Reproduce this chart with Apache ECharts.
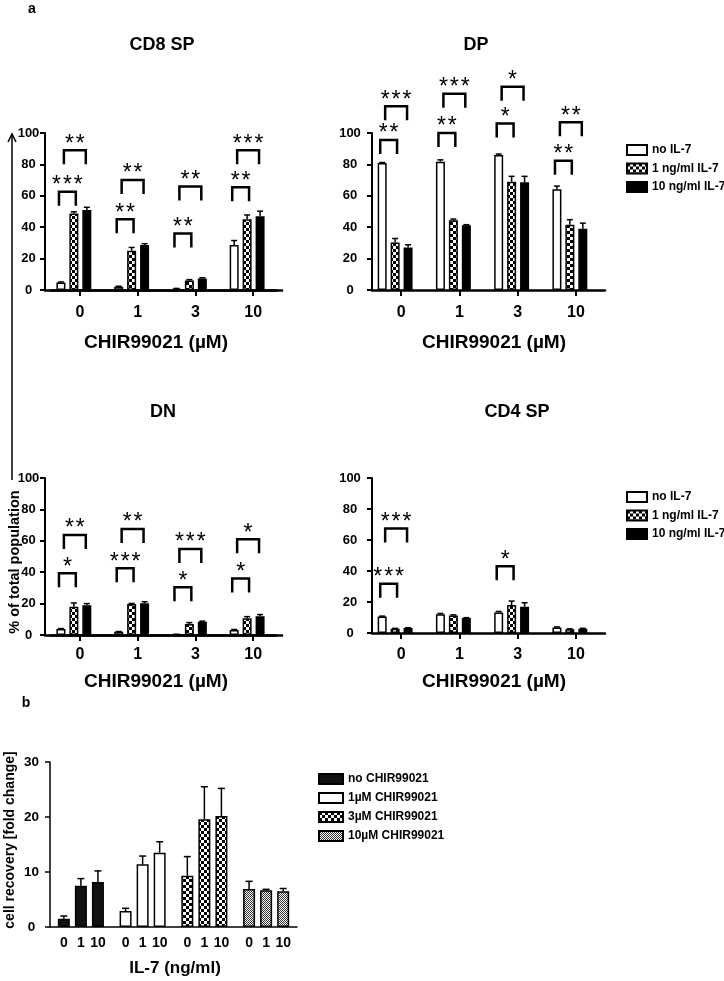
<!DOCTYPE html>
<html><head><meta charset="utf-8">
<script src="https://cdn.jsdelivr.net/npm/echarts@6/dist/echarts.min.js"></script>
<style>html,body{margin:0;padding:0;background:#fff}#c{width:724px;height:981px}</style>
</head><body><div id="c"></div>
<script>
const FONT = '"Liberation Sans", Arial, sans-serif';

// ---------------- Panel a data ----------------
const chirCategories = ['0', '1', '3', '10'];
const il7Names = ['no IL-7', '1 ng/ml IL-7', '10 ng/ml IL-7'];

// CD8 SP
const cd8NoIL7 = [4.7, 2.1, 0.8, 28.7];
const cd8IL7_1 = [48.8, 25.0, 6.0, 45.0];
const cd8IL7_10 = [51.0, 28.7, 7.4, 47.0];
const cd8ErrNo = [0.4, 0.3, 0.2, 2.8];
const cd8Err1 = [1.0, 2.1, 0.6, 2.8];
const cd8Err10 = [1.7, 0.8, 0.4, 3.2];
// [category index, 0 = no vs 1 ng / 1 = no vs 10 ng, bracket height, stars]
const cd8Brackets = [[0, 0, 62.6, '***'], [0, 1, 89, '**'], [1, 0, 45, '**'], [1, 1, 70, '**'],
                     [2, 0, 36, '**'], [2, 1, 66, '**'], [3, 0, 65.4, '**'], [3, 1, 89, '***']];

// DP
const dpNoIL7 = [80.9, 81.7, 86.0, 64.2];
const dpIL7_1 = [30.2, 44.5, 69.0, 41.6];
const dpIL7_10 = [27.0, 41.3, 68.6, 39.0];
const dpErrNo = [0.3, 1.2, 0.6, 2.0];
const dpErr1 = [2.6, 0.7, 3.4, 3.2];
const dpErr10 = [1.8, 0.3, 3.8, 3.6];
const dpBrackets = [[0, 0, 95.5, '**'], [0, 1, 117, '***'], [1, 0, 100, '**'], [1, 1, 125, '***'],
                    [2, 0, 106, '*'], [2, 1, 129.5, '*'], [3, 0, 82.4, '**'], [3, 1, 106.8, '**']];

// DN
const dnNoIL7 = [3.8, 2.0, 0.4, 3.2];
const dnIL7_1 = [18.0, 19.7, 7.0, 10.6];
const dnIL7_10 = [19.0, 20.2, 8.5, 12.0];
const dnErrNo = [0.3, 0.2, 0.1, 0.3];
const dnErr1 = [2.4, 0.4, 0.9, 1.1];
const dnErr10 = [1.0, 1.0, 0.3, 1.0];
const dnBrackets = [[0, 0, 39.3, '*'], [0, 1, 63.7, '**'], [1, 0, 42.5, '***'], [1, 1, 67.5, '**'],
                    [2, 0, 30.4, '*'], [2, 1, 54.8, '***'], [3, 0, 36, '*'], [3, 1, 61, '*']];

// CD4 SP
const cd4NoIL7 = [10.6, 12.1, 13.2, 3.6];
const cd4IL7_1 = [2.8, 11.3, 18.0, 2.5];
const cd4IL7_10 = [3.2, 9.6, 17.0, 2.8];
const cd4ErrNo = [0.3, 0.5, 0.7, 0.3];
const cd4Err1 = [0.2, 0.4, 2.6, 0.2];
const cd4Err10 = [0.2, 0.3, 2.5, 0.2];
const cd4Brackets = [[0, 0, 31.8, '***'], [0, 1, 67.5, '***'], [2, 0, 43, '*']];

const panelTitles = ['CD8 SP', 'DP', 'DN', 'CD4 SP'];

// ---------------- Panel b data ----------------
const chirGroups = ['no CHIR99021', '1µM CHIR99021', '3µM CHIR99021', '10µM CHIR99021'];
const il7Doses = ['0', '1', '10'];
const recIL7_0 = [1.5, 2.9, 9.3, 6.9];
const recIL7_1 = [7.5, 11.4, 19.6, 6.7];
const recIL7_10 = [8.2, 13.5, 20.2, 6.5];
const recErr0 = [0.5, 0.5, 3.5, 1.4];
const recErr1 = [1.3, 1.5, 5.9, 0.15];
const recErr10 = [2.0, 2.0, 5.0, 0.5];

// ---------------- styles ----------------
function checker(cell, dark, light) {
  const c = document.createElement('canvas');
  c.width = c.height = cell * 2;
  const g = c.getContext('2d');
  g.fillStyle = light; g.fillRect(0, 0, cell * 2, cell * 2);
  g.fillStyle = dark; g.fillRect(0, 0, cell, cell); g.fillRect(cell, cell, cell, cell);
  return { image: c, repeat: 'repeat' };
}
const stylesA = [
  { color: '#fff', borderColor: '#000', borderWidth: 1.5 },
  { color: checker(3, '#000', '#fff'), borderColor: '#000', borderWidth: 1.5 },
  { color: '#000', borderColor: '#000', borderWidth: 1.5 }
];
const stylesB = [
  { color: '#111', borderColor: '#000', borderWidth: 1.5 },
  { color: '#fff', borderColor: '#000', borderWidth: 1.5 },
  { color: checker(3, '#000', '#fff'), borderColor: '#000', borderWidth: 1.5 },
  { color: checker(1, '#333', '#fff'), borderColor: '#000', borderWidth: 1.5 }
];

const BAR_W_A = 9, GAP_A = 0.44, S_A = BAR_W_A * (1 + GAP_A);
const BAR_W_B = 12, GAP_B = 0.42, S_B = BAR_W_B * (1 + GAP_B);
const BRACKET_X = [[-1.15, 0.15], [-0.77, 0.92]];

const layoutA = [
  { barLeft: 45, tickLeft: 51, top: 133, width: 231, height: 157, yOff: 0, barLine: true, yMargin: 16.5, xMargin: 15 },
  { barLeft: 366, tickLeft: 372, top: 133, width: 233, height: 157, yOff: -6, barLine: false, yMargin: 22, xMargin: 15 },
  { barLeft: 45, tickLeft: 51, top: 478, width: 231, height: 157, yOff: 0, barLine: true, yMargin: 16.5, xMargin: 12 },
  { barLeft: 366, tickLeft: 372, top: 478, width: 233, height: 155, yOff: -6, barLine: false, yMargin: 22, xMargin: 14 }
];
const panelsA = [
  { values: [cd8NoIL7, cd8IL7_1, cd8IL7_10], errors: [cd8ErrNo, cd8Err1, cd8Err10], brackets: cd8Brackets },
  { values: [dpNoIL7, dpIL7_1, dpIL7_10], errors: [dpErrNo, dpErr1, dpErr10], brackets: dpBrackets },
  { values: [dnNoIL7, dnIL7_1, dnIL7_10], errors: [dnErrNo, dnErr1, dnErr10], brackets: dnBrackets },
  { values: [cd4NoIL7, cd4IL7_1, cd4IL7_10], errors: [cd4ErrNo, cd4Err1, cd4Err10], brackets: cd4Brackets }
];

const grids = [], xAxes = [], yAxes = [], series = [];
const black = '#000';

function errorSeries(g, values, errors, spacing, cap) {
  const data = [];
  values.forEach((arr, s) => arr.forEach((v, c) => data.push([c, v, errors[s][c], s])));
  const mid = (values.length - 1) / 2;
  return {
    type: 'custom', xAxisIndex: g, yAxisIndex: g, z: 5, silent: true, data,
    encode: { x: 0, y: 1 },
    renderItem(params, api) {
      const c = api.value(0), v = api.value(1), e = api.value(2), s = api.value(3);
      const p0 = api.coord([c, v]), p1 = api.coord([c, v + e]);
      const x = p0[0] + (s - mid) * spacing;
      return { type: 'group', children: [
        { type: 'line', shape: { x1: x, y1: p0[1], x2: x, y2: p1[1] }, style: { stroke: black, lineWidth: 1.5 } },
        { type: 'line', shape: { x1: x - cap, y1: p1[1], x2: x + cap, y2: p1[1] }, style: { stroke: black, lineWidth: 1.5 } }
      ] };
    }
  };
}

panelsA.forEach((p, i) => {
  const L = layoutA[i];
  const gBar = grids.length;
  grids.push({ left: L.barLeft, top: L.top, width: L.width, height: L.height });
  xAxes.push({ gridIndex: gBar, type: 'category', data: chirCategories,
    axisLine: { show: L.barLine, lineStyle: { color: black, width: 2.5 } },
    axisTick: { show: false }, axisLabel: { show: false }, splitLine: { show: false } });
  yAxes.push({ gridIndex: gBar, type: 'value', min: 0, max: 100, interval: 20, offset: L.yOff,
    axisLine: { show: true, lineStyle: { color: black, width: 2 } },
    axisTick: { show: true, length: 5, lineStyle: { color: black, width: 2 } },
    axisLabel: { color: black, fontFamily: FONT, fontWeight: 'bold', fontSize: 13, align: 'center', margin: L.yMargin },
    splitLine: { show: false } });
  const gTick = grids.length;
  grids.push({ left: L.tickLeft, top: L.top, width: L.width, height: L.height });
  xAxes.push({ gridIndex: gTick, type: 'category', data: chirCategories,
    axisLine: { show: true, lineStyle: { color: black, width: 2.5 } },
    axisTick: { show: true, alignWithLabel: true, length: 6, lineStyle: { color: black, width: 2 } },
    axisLabel: { interval: 0, color: black, fontFamily: FONT, fontWeight: 'bold', fontSize: 16, margin: L.xMargin },
    splitLine: { show: false } });
  yAxes.push({ gridIndex: gTick, type: 'value', min: 0, max: 100, show: false });

  il7Names.forEach((name, s) => {
    series.push({ type: 'bar', name, xAxisIndex: gBar, yAxisIndex: gBar, data: p.values[s],
      barWidth: BAR_W_A, barGap: (GAP_A * 100) + '%', itemStyle: stylesA[s], silent: true, z: 2 });
  });
  series.push(errorSeries(gBar, p.values, p.errors, S_A, 3));
  const br = p.brackets;
  series.push({
    type: 'custom', xAxisIndex: gBar, yAxisIndex: gBar, z: 6, silent: true, clip: false,
    data: br.map(b => [b[0], b[2]]), encode: { x: 0, y: 1 },
    renderItem(params, api) {
      const b = br[params.dataIndex];
      const pt = api.coord([b[0], b[2]]);
      const ext = BRACKET_X[b[1]];
      const xl = pt[0] + ext[0] * S_A, xr = pt[0] + ext[1] * S_A, y = pt[1];
      return { type: 'group', children: [
        { type: 'polyline', shape: { points: [[xl, y + 14], [xl, y], [xr, y], [xr, y + 14]] },
          style: { stroke: black, lineWidth: 2.5, fill: 'none', lineJoin: 'miter' } },
        { type: 'text', style: { text: b[3].split('').join('\u200A'), x: (xl + xr) / 2, y: y - 6,
          align: 'center', verticalAlign: 'middle', textAlign: 'center', textVerticalAlign: 'middle',
          font: '23px ' + FONT, fill: black } }
      ] };
    }
  });
});

// ---------------- Panel b ----------------
const gB = grids.length;
grids.push({ left: 50, top: 762, width: 247, height: 165 });
xAxes.push({ gridIndex: gB, type: 'category', data: chirGroups,
  axisLine: { show: true, lineStyle: { color: black, width: 1.5 } },
  axisTick: { show: false }, axisLabel: { show: false } });
yAxes.push({ gridIndex: gB, type: 'value', min: 0, max: 30, interval: 10,
  axisLine: { show: true, lineStyle: { color: black, width: 1.5 } },
  axisTick: { show: true, length: 5, lineStyle: { color: black, width: 1.5 } },
  axisLabel: { color: black, fontFamily: FONT, fontWeight: 'bold', fontSize: 13.5, align: 'center', margin: 18.5 },
  splitLine: { show: false } });
const recValues = [recIL7_0, recIL7_1, recIL7_10];
const recErrors = [recErr0, recErr1, recErr10];
il7Doses.forEach((dose, s) => {
  series.push({ type: 'bar', name: dose, xAxisIndex: gB, yAxisIndex: gB,
    data: recValues[s].map((v, c) => ({ value: v, itemStyle: stylesB[c] })),
    barWidth: BAR_W_B, barGap: (GAP_B * 100) + '%', silent: true, z: 2,
    label: { show: true, position: 'bottom', distance: 9, formatter: dose, color: black,
      fontFamily: FONT, fontWeight: 'bold', fontSize: 14 } });
});
series.push(errorSeries(gB, recValues, recErrors, S_B, 3.5));

// hidden grid holding legend-only series for panel b
const gL = grids.length;
grids.push({ left: 0, top: 0, width: 1, height: 1, show: false });
xAxes.push({ gridIndex: gL, type: 'category', data: ['x'], show: false });
yAxes.push({ gridIndex: gL, type: 'value', show: false });
chirGroups.forEach((name, c) => {
  series.push({ type: 'bar', name, xAxisIndex: gL, yAxisIndex: gL, data: [], itemStyle: stylesB[c] });
});

const legendText = { color: black, fontFamily: FONT, fontWeight: 'bold', fontSize: 12, lineHeight: 14 };
const legends = [
  { data: il7Names, left: 621, top: 138, orient: 'vertical', itemWidth: 20, itemHeight: 10, itemGap: 4.5, icon: 'rect', textStyle: legendText, selectedMode: false },
  { data: il7Names, left: 621, top: 485, orient: 'vertical', itemWidth: 20, itemHeight: 10, itemGap: 4.5, icon: 'rect', textStyle: legendText, selectedMode: false },
  { data: chirGroups, left: 313, top: 767, orient: 'vertical', itemWidth: 24, itemHeight: 10, itemGap: 5, icon: 'rect', textStyle: legendText, selectedMode: false }
];

function txt(text, x, y, size, extra) {
  return Object.assign({ type: 'text', x, y, silent: true, style: { text, x: 0, y: 0, align: 'center', verticalAlign: 'middle',
    textAlign: 'center', textVerticalAlign: 'middle', font: 'bold ' + size + 'px ' + FONT, fill: black } }, extra || {});
}
const xName = 'CHIR99021 (µM)';
const graphics = [
  txt('a', 32, 9, 14), txt('b', 26, 703, 14),
  txt(panelTitles[0], 162, 45, 18), txt(panelTitles[1], 476, 45, 18),
  txt(panelTitles[2], 163, 412, 18), txt(panelTitles[3], 517, 412, 18),
  txt(xName, 156, 343, 19), txt(xName, 494, 343, 19),
  txt(xName, 156, 682, 19), txt(xName, 494, 682, 19),
  txt('% of total population', 15, 562, 14.5, { rotation: Math.PI / 2 }),
  txt('cell recovery [fold change]', 10, 840, 14, { rotation: Math.PI / 2 }),
  txt('IL-7 (ng/ml)', 175, 968, 17),
  { type: 'polyline', silent: true, shape: { points: [[12, 480], [12, 134]] }, style: { stroke: black, lineWidth: 1.5, fill: 'none' } },
  { type: 'polyline', silent: true, shape: { points: [[8, 142], [12, 134], [16, 142]] }, style: { stroke: black, lineWidth: 1.5, fill: 'none' } }
];

const chart = echarts.init(document.getElementById('c'), null, { renderer: 'canvas', width: 724, height: 981 });
chart.setOption({
  animation: false,
  backgroundColor: '#fff',
  grid: grids, xAxis: xAxes, yAxis: yAxes, series,
  legend: legends,
  graphic: graphics
});
</script></body></html>
